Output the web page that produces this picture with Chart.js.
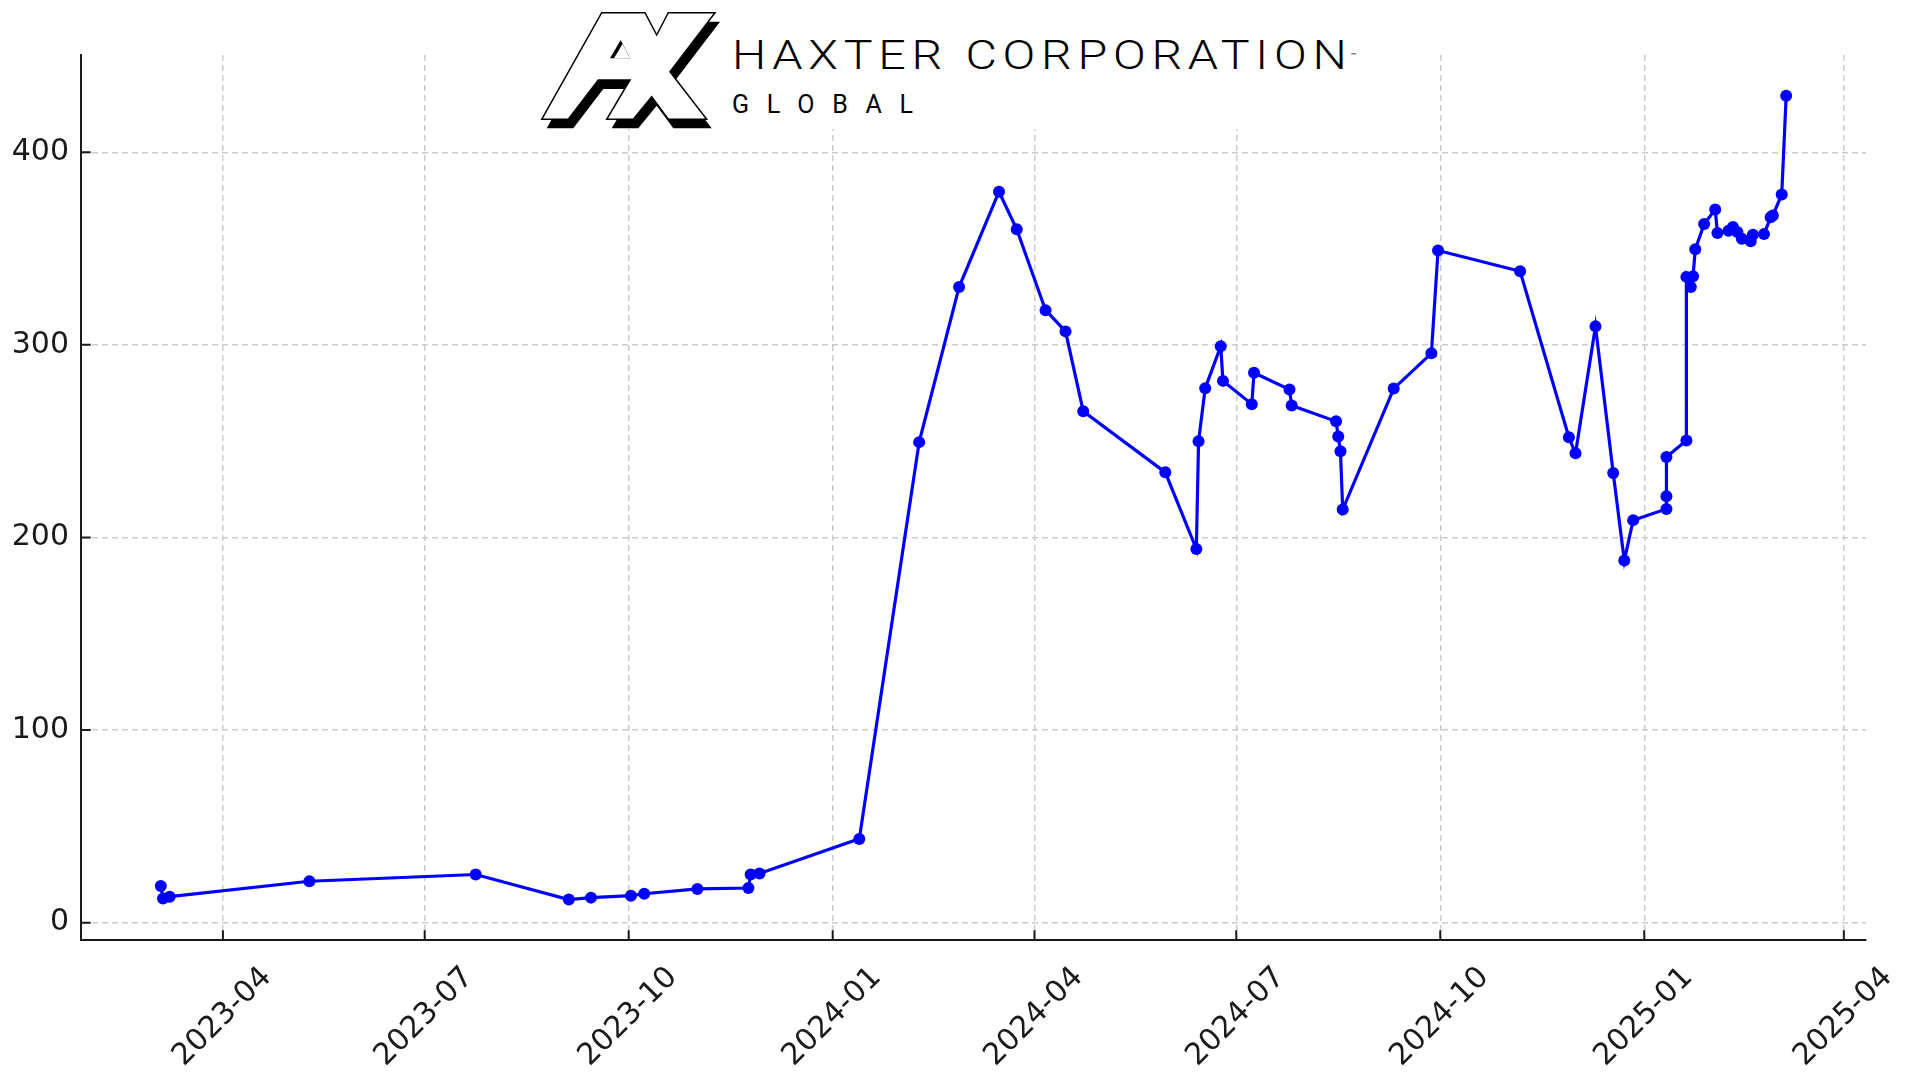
<!DOCTYPE html>
<html lang="en">
  <head>
    <meta charset="UTF-8" />
    <title>Haxter Corporation</title>
    <script src="https://cdn.jsdelivr.net/npm/chart.js"></script>
    <style>
      body {
        margin: 0;
        background: #fff;
        overflow: hidden;
      }
      .wrap {
        position: relative;
        width: 1920px;
        height: 1080px;
      }
      .logo {
        position: absolute;
        left: 530px;
        top: 0;
      }
    </style>
  </head>
  <body>
    <div class="wrap">
      <canvas id="priceChart" width="1920" height="1080"></canvas>
      <svg class="logo" width="840" height="135" viewBox="0 0 840 135">
        <rect x="5" y="0" width="830" height="129" fill="#fff" />
        <!-- extruded shadow -->
        <polygon
          transform="translate(5,9)"
          fill="#000"
          points="11.7,119.3 71.7,12.7 115,12.7 126.7,35 138.3,12.7 185,12.7 140,71.7 176.7,119.3 138.3,119.3 121.7,96.7 103.3,119.3 76.7,119.3 100,80 68.3,80 38.3,119.3"
        />
        <polygon
          fill="#fff"
          stroke="#000"
          stroke-width="1.5"
          points="11.7,119.3 71.7,12.7 115,12.7 126.7,35 138.3,12.7 185,12.7 140,71.7 176.7,119.3 138.3,119.3 121.7,96.7 103.3,119.3 76.7,119.3 100,80 68.3,80 38.3,119.3"
        />
        <polygon fill="#000" points="80,58.3 100,58.3 90.7,40" />
        <polygon fill="#fff" points="84,58.3 100,58.3 92.5,44" />
        <g transform="translate(202,69) scale(1.18,1)">
          <text
            x="0"
            y="0"
            font-family="Roboto, 'DejaVu Sans', sans-serif"
            font-weight="300"
            font-size="41"
            textLength="521"
            lengthAdjust="spacing"
            fill="#000"
          >HAXTER CORPORATION</text>
        </g>
        <text x="820" y="58" font-family="DejaVu Sans" font-size="7" fill="#000">™</text>
        <text
          x="202"
          y="113"
          font-family="Roboto, 'DejaVu Sans', sans-serif"
          font-size="25"
          textLength="181"
          lengthAdjust="spacing"
          fill="#000"
        >GLOBAL</text>
      </svg>
    </div>

    <script>
      const dates = [
        "2023-03-04", "2023-03-05", "2023-03-08", "2023-05-10", "2023-07-24",
        "2023-09-04", "2023-09-14", "2023-10-02", "2023-10-08", "2023-11-01",
        "2023-11-24", "2023-11-25", "2023-11-29", "2024-01-13", "2024-02-09",
        "2024-02-27", "2024-03-16", "2024-03-24", "2024-04-06", "2024-04-15",
        "2024-04-23", "2024-05-30", "2024-06-13", "2024-06-14", "2024-06-17",
        "2024-06-24", "2024-06-25", "2024-07-08", "2024-07-09", "2024-07-25",
        "2024-07-26", "2024-08-15", "2024-08-16", "2024-08-17", "2024-08-18",
        "2024-09-10", "2024-09-27", "2024-09-30", "2024-11-06", "2024-11-28",
        "2024-12-01", "2024-12-10", "2024-12-18", "2024-12-23", "2024-12-27",
        "2025-01-11", "2025-01-11", "2025-01-11", "2025-01-20", "2025-01-20",
        "2025-01-22", "2025-01-23", "2025-01-24", "2025-01-28", "2025-02-02",
        "2025-02-03", "2025-02-08", "2025-02-10", "2025-02-12", "2025-02-14",
        "2025-02-18", "2025-02-19", "2025-02-24", "2025-02-27", "2025-02-28",
        "2025-03-04", "2025-03-06",
      ];
      const values = [
        19, 12.5, 13.5, 21.5, 25,
        12, 13, 14, 15, 17.5,
        18, 25, 25.5, 43.5, 249.5,
        330, 379.5, 360, 318, 307,
        265.5, 233.8, 194, 250, 277.5,
        299.3, 281.3, 269.2, 285.5, 276.8,
        268.5, 260.3, 252.4, 244.8, 214.5,
        277.3, 295.6, 349, 338.2, 252,
        243.7, 309.6, 233.5, 188, 209,
        214.8, 221.4, 241.8, 250.4, 335.3,
        330.1, 335.6, 349.6, 362.7, 370.3,
        358.1, 359.3, 361.2, 358.6, 355.1,
        353.8, 357.2, 357.5, 366.2, 367.2,
        378.1, 429.3,
      ];
      const xTickDates = [
        "2023-04-01", "2023-07-01", "2023-10-01", "2024-01-01", "2024-04-01",
        "2024-07-01", "2024-10-01", "2025-01-01", "2025-04-01",
      ];
      const yTickValues = [0, 100, 200, 300, 400];
      const xRange = ["2023-01-27", "2025-04-11"];
      const yRange = [-9, 450.5];

      const ink = "#1a1a1a";
      Chart.defaults.font.family = "'DejaVu Sans', sans-serif";
      Chart.defaults.font.size = 30;
      Chart.defaults.color = ink;

      const points = dates.map((d, i) => ({ x: Date.parse(d), y: values[i] }));

      function monthLabel(ms) {
        const d = new Date(ms);
        return d.getUTCFullYear() + "-" + String(d.getUTCMonth() + 1).padStart(2, "0");
      }

      // matplotlib-style ticks pointing into the plot
      const innerTicks = {
        id: "innerTicks",
        afterDraw(chart) {
          const { ctx, chartArea, scales } = chart;
          const len = 9.7;
          ctx.save();
          ctx.strokeStyle = ink;
          ctx.lineWidth = 2;
          ctx.beginPath();
          scales.x.ticks.forEach((t) => {
            const px = scales.x.getPixelForValue(t.value);
            ctx.moveTo(px, chartArea.bottom);
            ctx.lineTo(px, chartArea.bottom - len);
          });
          scales.y.ticks.forEach((t) => {
            const py = scales.y.getPixelForValue(t.value);
            ctx.moveTo(chartArea.left, py);
            ctx.lineTo(chartArea.left + len, py);
          });
          ctx.stroke();
          ctx.restore();
        },
      };

      new Chart(document.getElementById("priceChart"), {
        type: "line",
        data: {
          datasets: [
            {
              data: points,
              borderColor: "#0000ff",
              backgroundColor: "#0000ff",
              borderWidth: 3.2,
              pointRadius: 6,
              pointBorderWidth: 0,
              pointBackgroundColor: "#0000ff",
              tension: 0,
              fill: false,
            },
          ],
        },
        options: {
          responsive: false,
          animation: false,
          layout: { padding: { top: 55, left: 0, right: 54, bottom: 0 } },
          plugins: { legend: { display: false }, tooltip: { enabled: false } },
          scales: {
            x: {
              type: "linear",
              min: Date.parse(xRange[0]),
              max: Date.parse(xRange[1]),
              afterBuildTicks: (axis) => {
                axis.ticks = xTickDates.map((d) => ({ value: Date.parse(d) }));
              },
              afterFit: (axis) => {
                axis.height = 140;
              },
              ticks: {
                autoSkip: false,
                minRotation: 45,
                maxRotation: 45,
                padding: 20,
                labelOffset: 44,
                callback: (v) => monthLabel(v),
              },
              grid: { color: "#cccccc", lineWidth: 1.5, drawTicks: false },
              border: { color: ink, width: 2, dash: [6, 4] },
            },
            y: {
              min: yRange[0],
              max: yRange[1],
              afterBuildTicks: (axis) => {
                axis.ticks = yTickValues.map((v) => ({ value: v }));
              },
              afterFit: (axis) => {
                axis.width = 81;
              },
              ticks: { padding: 12 },
              grid: { color: "#cccccc", lineWidth: 1.5, drawTicks: false },
              border: { color: ink, width: 2, dash: [6, 4] },
            },
          },
        },
        plugins: [innerTicks],
      });
    </script>
  </body>
</html>
